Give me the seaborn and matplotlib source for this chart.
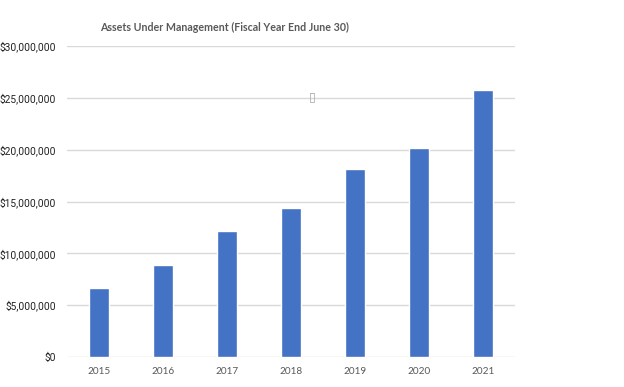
import matplotlib.pyplot as plt
import matplotlib.ticker as mticker
import pandas as pd
import seaborn as sns

years = ["2015", "2016", "2017", "2018", "2019", "2020", "2021"]
aum = [6630000, 8850000, 12120000, 14330000, 18170000, 20190000, 25770000]
yticks = [0, 5000000, 10000000, 15000000, 20000000, 25000000, 30000000]

df = pd.DataFrame({"year": years, "aum": aum})

sns.set_style("white")
fig = plt.figure(figsize=(6.24, 3.87), dpi=100)
ax = fig.add_axes([67 / 624, 1 - 357 / 387, 448 / 624, 311 / 387])

sns.barplot(data=df, x="year", y="aum", color="#4472C4", saturation=1,
            width=0.31, ax=ax, zorder=3)

ax.set_xlim(-0.5, 6.5)
ax.set_ylim(0, 30000000)
ax.set_yticks(yticks)
ax.yaxis.set_major_formatter(mticker.FuncFormatter(lambda v, p: f"${v:,.0f}"))
ax.grid(axis="y", color="#D9D9D9", linewidth=1, zorder=0)
ax.set_axisbelow(True)
for s in ax.spines.values():
    s.set_visible(False)
ax.tick_params(axis="both", length=0)
ax.tick_params(axis="y", labelsize=7.4, labelcolor="#222222", pad=8)
ax.tick_params(axis="x", labelsize=7.2, labelcolor="#595959", pad=7)
for lbl in ax.get_yticklabels():
    lbl.set_family("Roboto")
for lbl in ax.get_xticklabels():
    lbl.set_family("Lato")
ax.set_xlabel("")
ax.set_ylabel("")

# title sits left of the axes centre, as in the reference
fig.text(224 / 624, 1 - 27 / 387, "Assets Under Management (Fiscal Year End June 30)",
         ha="center", va="center", fontsize=7.7, fontweight="bold",
         color="#595959", family="Lato")
# stray placeholder box seen in the reference
fig.text(312 / 624, 1 - 97 / 387, "\u25af", ha="center", va="center",
         fontsize=9, color="#A6A6A6", family="DejaVu Sans")

fig.savefig("out.png", dpi=100)
plt.close(fig)
